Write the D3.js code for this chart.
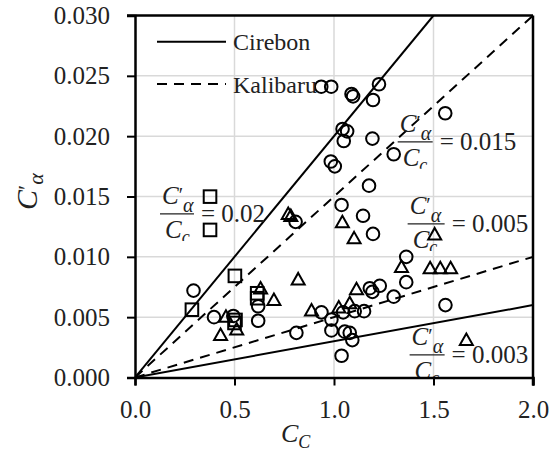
<!DOCTYPE html>
<html><head><meta charset="utf-8">
<script src="https://cdn.jsdelivr.net/npm/d3@7"></script>
<style>
body{margin:0;background:#fff}svg{display:block}
text{font-family:"Liberation Serif",Tinos,"Noto Serif","DejaVu Serif",FreeSerif,"Nimbus Roman","Nimbus Roman No9 L",Times,"Times New Roman",serif;}
</style>
</head><body><svg id="c" width="550" height="455" font-family="Liberation Serif"></svg>
<script>
// ---- data ----
const xTicks = [0, 0.5, 1, 1.5, 2];
const yTicks = [0, 0.005, 0.01, 0.015, 0.02, 0.025, 0.03];
const cirebonSlopes = [0.02, 0.003];
const kalibaruSlopes = [0.015, 0.005];
const legendLabels = ["Cirebon", "Kalibaru"];
const ratioLabels = ["0.02", "0.015", "0.005", "0.003"];

const circleX = [0.936,0.986,1.088,1.096,1.226,1.196,1.043,1.066,1.049,1.193,1.300,0.984,1.004,1.176,1.559,1.038,1.146,1.196,0.807,1.363,1.363,1.180,1.193,1.230,1.300,1.560,0.937,1.046,1.104,1.151,0.987,0.987,1.054,1.079,1.092,1.038,0.811,0.294,0.397,0.494,0.619,0.619];
const circleY = [0.0241,0.0241,0.0235,0.0233,0.0243,0.0230,0.0206,0.0204,0.0196,0.0198,0.0185,0.0179,0.0175,0.0159,0.0219,0.0143,0.0134,0.0119,0.0129,0.0100,0.0079,0.0074,0.0071,0.0076,0.0067,0.0060,0.0054,0.0054,0.0055,0.0055,0.0048,0.0039,0.0038,0.0037,0.0031,0.0018,0.0037,0.0072,0.0050,0.0051,0.0059,0.0047];
const triangleX = [0.770,0.783,1.042,1.101,1.506,1.339,1.483,1.534,1.586,0.820,0.631,0.698,1.113,0.887,1.024,1.079,1.665,0.457,0.430,0.511];
const triangleY = [0.01355,0.01339,0.01287,0.01153,0.01186,0.00916,0.00905,0.00905,0.00905,0.00813,0.00738,0.00643,0.00731,0.00556,0.00580,0.00615,0.00311,0.00504,0.00352,0.00398];
const squareX = [0.377,0.377,0.502,0.286,0.614,0.614,0.505,0.500];
const squareY = [0.01499,0.01223,0.00842,0.00562,0.00698,0.00657,0.00477,0.00452];

// ---- layout ----
const W = 550, H = 455;
const L = 135, R = 533, T = 15.5, B = 377.5;
const svg = d3.select("#c");
const x = d3.scaleLinear().domain([0, 2]).range([L, R]);
const y = d3.scaleLinear().domain([0, 0.03]).range([B, T]);

svg.append("rect").attr("width", W).attr("height", H).attr("fill", "#fff");
const defs = svg.append("defs");
defs.append("clipPath").attr("id", "plot").append("rect")
  .attr("x", L).attr("y", T).attr("width", R - L).attr("height", B - T);

// grid
const grid = svg.append("g").attr("stroke", "#d9d9d9").attr("stroke-width", 1.5);
grid.selectAll(".gx").data(xTicks.filter(d => d > 0 && d < 2)).join("line")
  .attr("x1", d => x(d)).attr("x2", d => x(d)).attr("y1", T).attr("y2", B);
grid.selectAll(".gy").data(yTicks.filter(d => d > 0 && d < 0.03)).join("line")
  .attr("x1", L).attr("x2", R).attr("y1", d => y(d)).attr("y2", d => y(d));

// ratio lines
const plotG = svg.append("g").attr("clip-path", "url(#plot)");
function ratioPath(s) {
  const xEnd = Math.min(2, 0.03 / s);
  return d3.line().x(d => x(d[0])).y(d => y(d[1]))([[0, 0], [xEnd, s * xEnd]]);
}
plotG.selectAll(".cl").data(cirebonSlopes).join("path")
  .attr("d", ratioPath).attr("fill", "none").attr("stroke", "#000").attr("stroke-width", 2);
plotG.selectAll(".kl").data(kalibaruSlopes).join("path")
  .attr("d", ratioPath).attr("fill", "none").attr("stroke", "#000").attr("stroke-width", 2)
  .attr("stroke-dasharray", "10,7");

// ratio annotations (fractions)
const annot = [
  {v: ratioLabels[0], ax: 0.1255, ay: 0.01356, bw: 34},
  {v: ratioLabels[1], ax: 1.320, ay: 0.01953, bw: 35},
  {v: ratioLabels[2], ax: 1.370, ay: 0.01273, bw: 37},
  {v: ratioLabels[3], ax: 1.380, ay: 0.00187, bw: 35}
];
annot.forEach((a, i) => {
  const bx = x(a.ax), by = y(a.ay);
  const bottom = Math.min(by + 27, B);
  defs.append("clipPath").attr("id", "ac" + i).append("rect")
    .attr("x", bx - 10).attr("y", by - 45).attr("width", 160).attr("height", bottom - (by - 45));
  const g = svg.append("g").attr("clip-path", `url(#ac${i})`).attr("fill", "#222");
  const num = g.append("text").attr("x", bx + 2).attr("y", by - 10)
    .style("font-size", "25px").style("font-style", "italic");
  num.append("tspan").text("C");
  num.append("tspan").text("′").style("font-style", "normal").style("font-size", "20px").attr("dy", -2);
  num.append("tspan").text("α").style("font-size", "20px").attr("dy", 10);
  g.append("line").attr("x1", bx).attr("x2", bx + a.bw).attr("y1", by).attr("y2", by)
    .attr("stroke", "#222").attr("stroke-width", 1.2);
  const den = g.append("text").attr("x", bx + 5).attr("y", by + 24)
    .style("font-size", "25px").style("font-style", "italic");
  den.append("tspan").text("C");
  den.append("tspan").text("c").style("font-size", "18px").attr("dy", 5);
  g.append("text").attr("x", bx + a.bw + 7).attr("y", by + 8)
    .style("font-size", "25px").text("= " + a.v);
});

// markers
const mk = svg.append("g").attr("fill", "none").attr("stroke", "#000").attr("stroke-width", 2);
mk.selectAll(".c").data(d3.range(circleX.length)).join("circle")
  .attr("cx", i => x(circleX[i])).attr("cy", i => y(circleY[i])).attr("r", 6.3);
mk.selectAll(".t").data(d3.range(triangleX.length)).join("path")
  .attr("d", i => {
    const cx = x(triangleX[i]), cy = y(triangleY[i]);
    return `M${cx},${cy - 6.5}L${cx + 6.5},${cy + 5}L${cx - 6.5},${cy + 5}Z`;
  }).attr("stroke-linejoin", "miter");
mk.selectAll(".s").data(d3.range(squareX.length)).join("rect")
  .attr("x", i => x(squareX[i]) - 6.3).attr("y", i => y(squareY[i]) - 6.3)
  .attr("width", 12.6).attr("height", 12.6);

// axes
const yAxis = svg.append("g").attr("transform", `translate(${L},0)`)
  .call(d3.axisLeft(y).tickValues(yTicks).tickFormat(d3.format(".3f")).tickSize(8).tickPadding(17));
const xAxis = svg.append("g").attr("transform", `translate(0,${B})`)
  .call(d3.axisBottom(x).tickValues(xTicks).tickFormat(d3.format(".1f")).tickSize(8).tickPadding(15));
[yAxis, xAxis].forEach(a => {
  a.attr("font-family", "Liberation Serif").attr("font-size", null);
  a.select(".domain").attr("stroke-width", 2.5).attr("stroke", "#000");
  a.selectAll(".tick line").attr("stroke-width", 2).attr("stroke", "#000");
  a.selectAll(".tick text").style("font-size", "25px").attr("fill", "#222");
});
// top and right border
svg.append("line").attr("x1", L - 8).attr("x2", R).attr("y1", T).attr("y2", T)
  .attr("stroke", "#000").attr("stroke-width", 2.5);
svg.append("line").attr("x1", R).attr("x2", R).attr("y1", T).attr("y2", B + 8)
  .attr("stroke", "#000").attr("stroke-width", 2.5);

// legend
const lg = svg.append("g").attr("fill", "#222");
[0, 1].forEach(i => {
  const ly = i === 0 ? 41.7 : 84;
  lg.append("line").attr("x1", 157).attr("x2", 226).attr("y1", ly).attr("y2", ly)
    .attr("stroke", "#000").attr("stroke-width", 2)
    .attr("stroke-dasharray", i === 0 ? null : "10,7");
  lg.append("text").attr("x", 233).attr("y", ly + 8.5).style("font-size", "24px").text(legendLabels[i]);
});

// axis titles
const yt = svg.append("text").attr("transform", "translate(37,210) rotate(-90)")
  .style("font-size", "30px").style("font-style", "italic").attr("fill", "#222");
yt.append("tspan").text("C");
yt.append("tspan").text("′").style("font-style", "normal").style("font-size", "24px").attr("dy", -3);
yt.append("tspan").text("α").style("font-size", "22px").attr("dy", 9);
const xt = svg.append("text").attr("x", 281).attr("y", 442)
  .style("font-size", "26px").style("font-style", "italic").attr("fill", "#222");
xt.append("tspan").text("C");
xt.append("tspan").text("C").style("font-size", "18px").attr("dy", 6);
</script>
</body></html>
